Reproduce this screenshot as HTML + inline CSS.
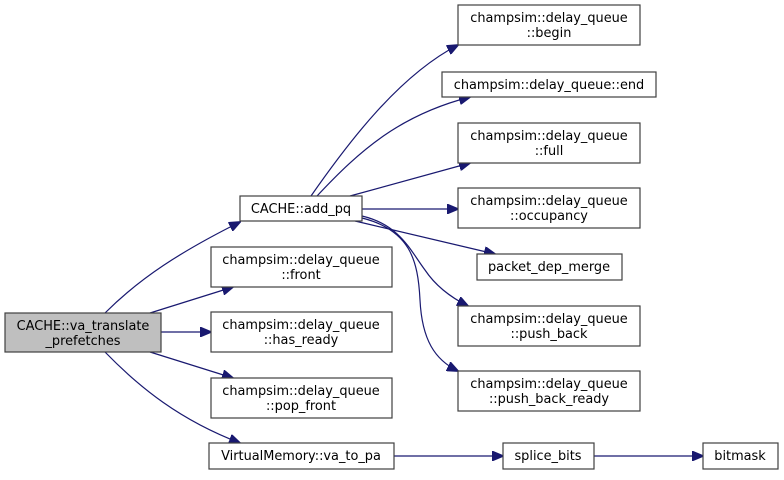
<!DOCTYPE html>
<html><head><style>
html,body{margin:0;padding:0;background:#fff;}
svg text{font-family:"DejaVu Sans","Liberation Sans",sans-serif;font-size:12.9px;fill:#000;text-anchor:middle;}
rect{fill:#fff;stroke:#404040;stroke-width:1.2;}
path.e{fill:none;stroke:#191970;stroke-width:1.2;}
</style></head><body>
<svg width="784" height="475" xmlns="http://www.w3.org/2000/svg">
<defs><marker id="a" markerWidth="12" markerHeight="10" refX="11" refY="5" orient="auto" markerUnits="userSpaceOnUse"><path d="M0,0 L12,5 L0,10 Z" fill="#191970" stroke="#191970"/></marker></defs>
<path class="e" marker-end="url(#a)" d="M105,313 C140,278 180,252 240,222"/>
<path class="e" marker-end="url(#a)" d="M150,313 L233,287"/>
<path class="e" marker-end="url(#a)" d="M161,332 L211,332"/>
<path class="e" marker-end="url(#a)" d="M150,352 L233,378"/>
<path class="e" marker-end="url(#a)" d="M105,352 C140,388 180,420 240,443"/>
<path class="e" marker-end="url(#a)" d="M311,196 C350,140 400,75 458,45"/>
<path class="e" marker-end="url(#a)" d="M317,196 C360,150 400,115 470,97"/>
<path class="e" marker-end="url(#a)" d="M350,196 L470,163"/>
<path class="e" marker-end="url(#a)" d="M362,209 L458,209"/>
<path class="e" marker-end="url(#a)" d="M355,221 L495,254"/>
<path class="e" marker-end="url(#a)" d="M362,216 C400,225 410,250 425,270 C435,285 450,297 468,306"/>
<path class="e" marker-end="url(#a)" d="M362,218 C410,230 418,260 420,300 C422,340 435,360 458,371"/>
<path class="e" marker-end="url(#a)" d="M394,456 L503,456"/>
<path class="e" marker-end="url(#a)" d="M594,456 L703,456"/>
<rect x="5" y="313" width="156" height="39" style="fill:#bfbfbf"/>
<text x="83" y="330">CACHE::va_translate</text><text x="83" y="345">_prefetches</text>
<rect x="240" y="196" width="122" height="25"/><text x="301" y="213">CACHE::add_pq</text>
<rect x="211" y="247" width="181" height="40"/><text x="301" y="264">champsim::delay_queue</text><text x="301" y="279">::front</text>
<rect x="211" y="312" width="181" height="40"/><text x="301" y="329">champsim::delay_queue</text><text x="301" y="344">::has_ready</text>
<rect x="211" y="378" width="181" height="40"/><text x="301" y="395">champsim::delay_queue</text><text x="301" y="410">::pop_front</text>
<rect x="209" y="443" width="185" height="26"/><text x="301" y="460">VirtualMemory::va_to_pa</text>
<rect x="458" y="5" width="182" height="40"/><text x="549" y="22">champsim::delay_queue</text><text x="549" y="37">::begin</text>
<rect x="442" y="72" width="214" height="25"/><text x="549" y="89">champsim::delay_queue::end</text>
<rect x="458" y="123" width="182" height="40"/><text x="549" y="140">champsim::delay_queue</text><text x="549" y="155">::full</text>
<rect x="458" y="188" width="182" height="40"/><text x="549" y="205">champsim::delay_queue</text><text x="549" y="220">::occupancy</text>
<rect x="477" y="254" width="145" height="26"/><text x="549" y="271">packet_dep_merge</text>
<rect x="458" y="306" width="182" height="40"/><text x="549" y="323">champsim::delay_queue</text><text x="549" y="338">::push_back</text>
<rect x="458" y="371" width="182" height="40"/><text x="549" y="388">champsim::delay_queue</text><text x="549" y="403">::push_back_ready</text>
<rect x="503" y="443" width="91" height="26"/><text x="548" y="460">splice_bits</text>
<rect x="703" y="443" width="75" height="26"/><text x="740" y="460">bitmask</text>
</svg>
</body></html>
